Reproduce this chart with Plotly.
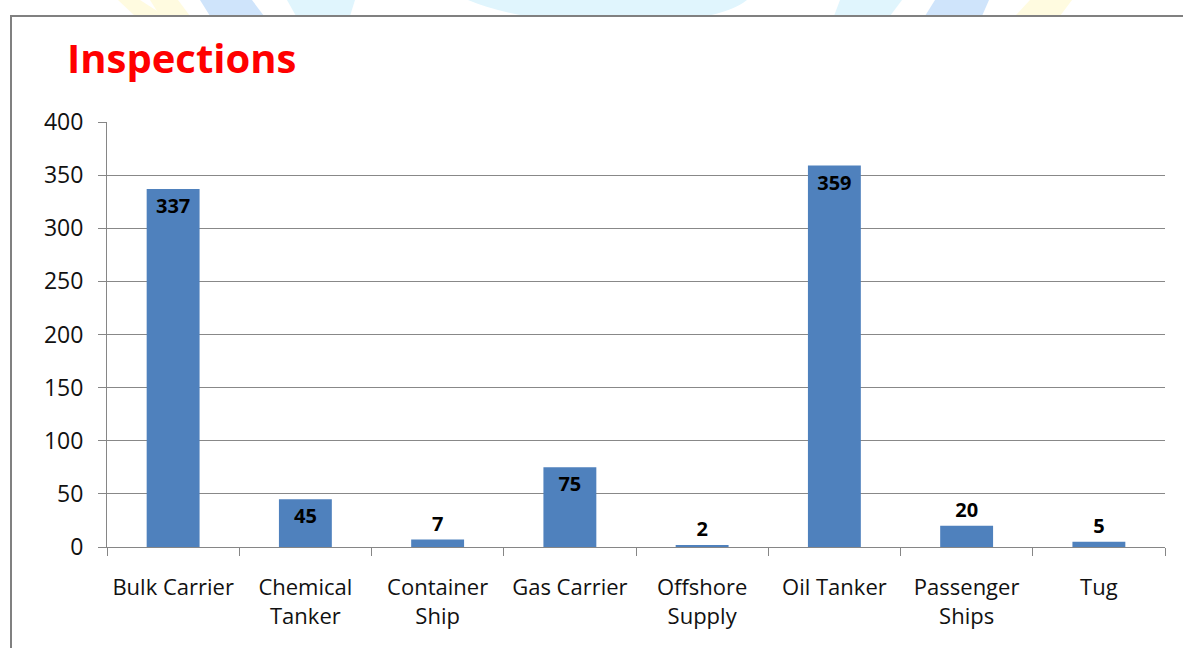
import plotly.graph_objects as go

categories = ["Bulk Carrier", "Chemical<br>Tanker", "Container<br>Ship", "Gas Carrier",
              "Offshore<br>Supply", "Oil Tanker", "Passenger<br>Ships", "Tug"]
values = [337, 45, 7, 75, 2, 359, 20, 5]
label_positions = ["inside", "inside", "outside", "inside", "outside", "inside", "outside", "outside"]
y_ticks = [0, 50, 100, 150, 200, 250, 300, 350, 400]

W, H = 1183, 648
L, R, T, B = 107, 18, 122, 101
PW, PH = W - L - R, H - T - B

def px(x):
    return (x - L) / PW

def py(y):
    return (H - B - y) / PH

fig = go.Figure()
label_font = dict(family="Open Sans", size=20, color="black", weight="bold")
fig.add_trace(go.Bar(
    x=categories, y=values,
    marker=dict(color="#4F81BD", line=dict(width=0)),
    width=0.4,
    text=[str(v) for v in values],
    textposition=label_positions,
    insidetextanchor="end",
    textfont=label_font,
    outsidetextfont=label_font,
    insidetextfont=label_font,
    cliponaxis=False,
    textangle=0,
    showlegend=False,
    hoverinfo="skip",
))

shapes = []
# faint watermark stripes at the top
def poly(pts, color):
    d = "M " + " L ".join(f"{px(a)},{py(b)}" for a, b in pts) + " Z"
    return dict(type="path", xref="paper", yref="paper", path=d, fillcolor=color,
                line=dict(width=0), layer="below")

shapes.append(poly([(118, 0), (140, 0), (165, 16), (135, 16)], "#fffbe0"))
shapes.append(poly([(150, 0), (178, 0), (190, 16), (160, 16)], "#fffbe0"))
shapes.append(poly([(200, 0), (252, 0), (264, 16), (210, 16)], "#cfe4fb"))
shapes.append(poly([(287, 0), (355, 0), (350, 16), (296, 16)], "#e0f5fd"))
shapes.append(dict(type="path", xref="paper", yref="paper",
                   path=f"M {px(468)},{py(0)} Q {px(520)},{py(22)} {px(620)},{py(24)} Q {px(720)},{py(22)} {px(747)},{py(0)} Z",
                   fillcolor="#e0f5fd", line=dict(width=0), layer="below"))
shapes.append(poly([(840, 0), (902, 0), (890, 16), (834, 16)], "#e0f5fd"))
shapes.append(poly([(935, 0), (989, 0), (982, 16), (925, 16)], "#cfe4fb"))
shapes.append(poly([(1030, 0), (1072, 0), (1060, 16), (1015, 16)], "#fffbe0"))
# chart frame
shapes.append(dict(type="rect", xref="paper", yref="paper",
                   x0=px(11), x1=px(1190), y0=py(16), y1=py(660),
                   fillcolor="white", line=dict(color="#808080", width=2), layer="below"))

fig.update_layout(
    width=W, height=H,
    margin=dict(l=L, r=R, t=T, b=B, pad=0),
    paper_bgcolor="white",
    plot_bgcolor="rgba(0,0,0,0)",
    font=dict(family="Open Sans", color="black"),
    shapes=shapes,
    annotations=[dict(text="<b>Inspections</b>", x=px(65), y=py(58), xref="paper", yref="paper",
                      xanchor="left", yanchor="middle", showarrow=False,
                      font=dict(family="Open Sans", size=40, color="#FF0000"))],
    xaxis=dict(
        type="category",
        showline=True, linecolor="#868686", linewidth=1,
        ticks="outside", ticklen=8, tickcolor="#868686", tickson="boundaries",
        tickfont=dict(family="Open Sans", size=22, color="#111111"),
        ticklabelstandoff=21,
        showgrid=False,
        range=[-0.5, 7.5],
    ),
    yaxis=dict(
        range=[0, 400],
        tickvals=y_ticks,
        showline=True, linecolor="#868686", linewidth=1,
        ticks="outside", ticklen=8, tickcolor="#868686",
        showgrid=True, gridcolor="#888888", gridwidth=1,
        tickfont=dict(family="Open Sans", size=23, color="#111111"),
        ticklabelstandoff=10,
        zeroline=False,
    ),
)

fig.write_html("out.html", config={"displayModeBar": False},
               post_script="document.body.style.margin='0';document.body.style.padding='0';")
